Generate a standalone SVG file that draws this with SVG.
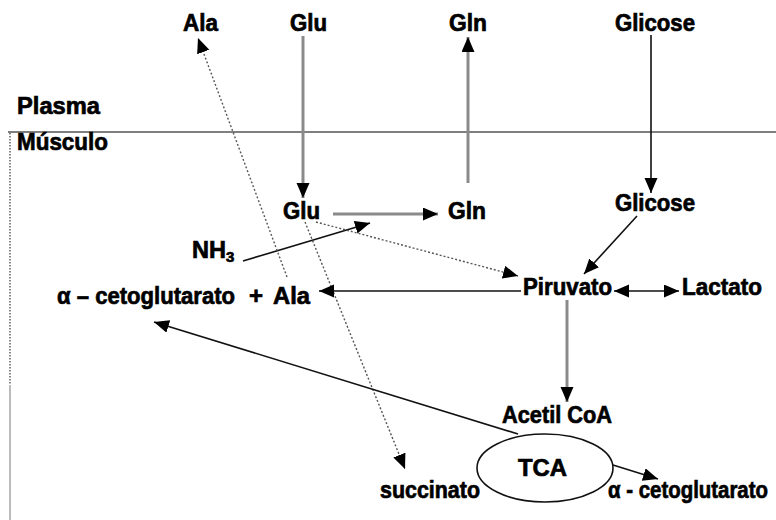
<svg xmlns="http://www.w3.org/2000/svg" width="776" height="520" viewBox="0 0 776 520">
  <style>
    text { font-family: "Liberation Sans", Arial, sans-serif; font-weight: bold; font-size: 24px; fill: #000; stroke: #000; stroke-width: 0.7; }
    .thin { stroke: #111; stroke-width: 1.6; fill: none; }
    .thick { stroke: #8a8a8a; stroke-width: 3; fill: none; }
    .dot { stroke: #555; stroke-width: 1.4; stroke-dasharray: 2 2; fill: none; }
  </style>
  <defs>
    <marker id="arrow" markerUnits="userSpaceOnUse" markerWidth="16" markerHeight="14" refX="15" refY="6.5" orient="auto-start-reverse">
      <path d="M0,0 L15,6.5 L0,13 z" fill="#000"/>
    </marker>
  </defs>

  <rect width="776" height="520" fill="#fff"/>

  <!-- compartment boundaries -->
  <g id="boundaries">
    <line x1="8" y1="132" x2="776" y2="132" stroke="#555" stroke-width="1.5"/>
    <line x1="10" y1="133" x2="10" y2="385" stroke="#888" stroke-width="2" stroke-dasharray="1.5 1.5"/>
    <line x1="10" y1="385" x2="10" y2="520" stroke="#bbb" stroke-width="2"/>
  </g>

  <!-- connectors -->
  <g id="connectors">
    <line class="thick" x1="303" y1="36" x2="303" y2="198" marker-end="url(#arrow)"/>
    <line class="thick" x1="468" y1="183" x2="468" y2="37" marker-end="url(#arrow)"/>
    <line class="thin" x1="651" y1="35" x2="651" y2="193" marker-end="url(#arrow)"/>
    <line class="thick" x1="333" y1="214" x2="438" y2="214" marker-end="url(#arrow)"/>
    <line class="thin" x1="243" y1="261" x2="370" y2="223" marker-end="url(#arrow)"/>
    <line class="dot" x1="316" y1="222" x2="518" y2="276" marker-end="url(#arrow)"/>
    <line class="dot" x1="287" y1="277" x2="198" y2="38" marker-end="url(#arrow)"/>
    <line class="dot" x1="305" y1="222" x2="405" y2="469" marker-end="url(#arrow)"/>
    <line class="thin" x1="637" y1="216" x2="584" y2="274" marker-end="url(#arrow)"/>
    <line class="thin" x1="521" y1="291" x2="319" y2="291" marker-end="url(#arrow)"/>
    <line class="thin" x1="614" y1="291" x2="679" y2="291" marker-start="url(#arrow)" marker-end="url(#arrow)"/>
    <line class="thick" x1="567" y1="300" x2="567" y2="402" marker-end="url(#arrow)"/>
    <line class="thin" x1="518" y1="434" x2="154" y2="322" marker-end="url(#arrow)"/>
    <line class="thin" x1="613" y1="465" x2="658" y2="479" marker-end="url(#arrow)"/>
  </g>

  <!-- compartment labels -->
  <g id="label-plasma"><text x="17" y="114" textLength="83" lengthAdjust="spacingAndGlyphs">Plasma</text></g>
  <g id="label-musculo"><text x="17" y="150" textLength="91" lengthAdjust="spacingAndGlyphs">Músculo</text></g>

  <!-- plasma metabolites -->
  <g id="ala-plasma"><text x="183" y="31" textLength="35" lengthAdjust="spacingAndGlyphs">Ala</text></g>
  <g id="glu-plasma"><text x="290" y="31" textLength="37" lengthAdjust="spacingAndGlyphs">Glu</text></g>
  <g id="gln-plasma"><text x="449" y="31" textLength="38" lengthAdjust="spacingAndGlyphs">Gln</text></g>
  <g id="glicose-plasma"><text x="615" y="31" textLength="80" lengthAdjust="spacingAndGlyphs">Glicose</text></g>

  <!-- muscle metabolites -->
  <g id="glu-musculo"><text x="283" y="219" textLength="37" lengthAdjust="spacingAndGlyphs">Glu</text></g>
  <g id="gln-musculo"><text x="448" y="219" textLength="38" lengthAdjust="spacingAndGlyphs">Gln</text></g>
  <g id="glicose-musculo"><text x="615" y="211" textLength="80" lengthAdjust="spacingAndGlyphs">Glicose</text></g>
  <g id="nh3"><text x="192" y="258"><tspan textLength="34" lengthAdjust="spacingAndGlyphs">NH</tspan><tspan font-size="15" dy="4">3</tspan></text></g>
  <g id="cetoglutarato-ala">
    <text x="57" y="304" textLength="178" lengthAdjust="spacingAndGlyphs">α – cetoglutarato</text>
    <text x="249" y="304">+</text>
    <text x="273" y="304" textLength="37" lengthAdjust="spacingAndGlyphs">Ala</text>
  </g>
  <g id="piruvato"><text x="523" y="295" textLength="89" lengthAdjust="spacingAndGlyphs">Piruvato</text></g>
  <g id="lactato"><text x="682" y="295" textLength="80" lengthAdjust="spacingAndGlyphs">Lactato</text></g>
  <g id="acetil-coa"><text x="502" y="423" textLength="110" lengthAdjust="spacingAndGlyphs">Acetil CoA</text></g>
  <g id="tca">
    <ellipse cx="545" cy="468" rx="68" ry="34" fill="none" stroke="#111" stroke-width="1.6"/>
    <text x="518" y="476" textLength="49" lengthAdjust="spacingAndGlyphs">TCA</text>
  </g>
  <g id="succinato"><text x="380" y="498" textLength="100" lengthAdjust="spacingAndGlyphs">succinato</text></g>
  <g id="cetoglutarato-tca"><text x="608" y="498" font-size="21" textLength="160" lengthAdjust="spacingAndGlyphs">α - cetoglutarato</text></g>
</svg>
